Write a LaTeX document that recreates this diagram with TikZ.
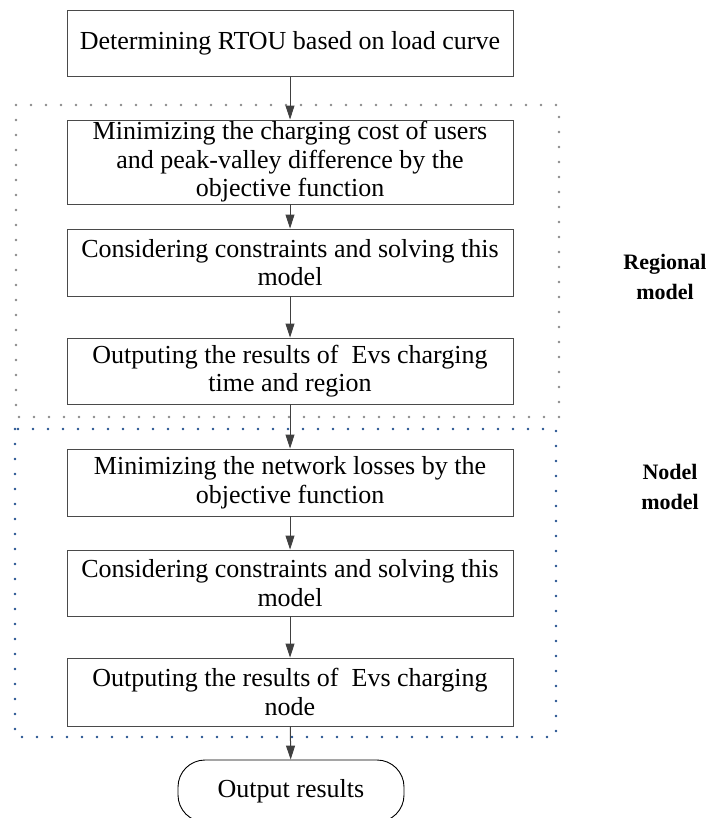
\documentclass[tikz,border=0pt]{standalone}
\usepackage{fontspec}
\setmainfont{Liberation Serif}
\usetikzlibrary{arrows.meta}
\definecolor{boxline}{HTML}{4A4A4A}
\definecolor{arrowc}{HTML}{404040}
\definecolor{dotgray}{HTML}{8A8A8A}
\definecolor{dotblue}{HTML}{24528F}
\begin{document}
\begin{tikzpicture}[x=1pt,y=-1pt,
  stepbox/.style={draw=boxline, line width=0.9pt, minimum width=446pt, align=center,
    font=\fontsize{26}{28.5}\selectfont, inner sep=0pt},
  flow/.style={draw=arrowc, line width=1pt, -{Triangle[length=14pt,width=9pt]}},
  dotline/.style={line width=2.8pt, line cap=round, dash pattern=on 0pt off 15pt},
  sidelabel/.style={font=\fontsize{22}{29.5}\selectfont\bfseries, align=center, inner sep=0pt}
  ]
\useasboundingbox (0,0) rectangle (711,818);
% dotted regions
\draw[dotline, dotgray] (16,105) rectangle (559,417);
\draw[dotline, dotblue] (15,429) rectangle (556,737);
% boxes
\node[stepbox, minimum height=66pt] (b1) at (290,43.7) {Determining RTOU based on load curve};
\node[stepbox, minimum height=84pt] (b2) at (290,162) {Minimizing the charging cost of users\\and peak-valley difference by the\\objective function};
\node[stepbox, minimum height=67pt] (b3) at (290,262.5) {Considering constraints and solving this\\model};
\node[stepbox, minimum height=66pt] (b4) at (290,371) {Outputing the results of \ Evs charging\\time and region};
\node[stepbox, minimum height=67pt] (b5) at (290,482.5) {Minimizing the network losses by the\\objective function};
\node[stepbox, minimum height=66pt] (b6) at (290,583) {Considering constraints and solving this\\model};
\node[stepbox, minimum height=68pt] (b7) at (290,692) {Outputing the results of \ Evs charging\\node};
\node[draw=black, line width=0.9pt, rounded corners=27pt, minimum width=226pt, minimum height=62pt,
  font=\fontsize{26}{28.5}\selectfont, inner sep=0pt] (out) at (291,791) {Output results};
% side labels
\node[sidelabel] (lreg) at (665,277) {Regional\\model};
\node[sidelabel] (lnod) at (670,487) {Nodel\\model};
% connectors
\draw[flow] (b1) -- (b2);
\draw[flow] (b2) -- (b3);
\draw[flow] (b3) -- (b4);
\draw[flow] (b4) -- (b5);
\draw[flow] (b5) -- (b6);
\draw[flow] (b6) -- (b7);
\draw[flow] (b7) -- (out);
\end{tikzpicture}
\end{document}
